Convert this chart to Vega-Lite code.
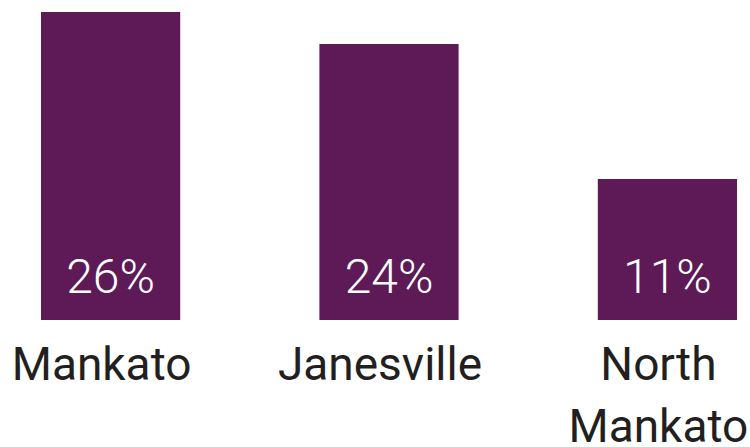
{
  "$schema": "https://vega.github.io/schema/vega-lite/v6.json",
  "width": 696,
  "height": 308,
  "padding": {"left": 41, "top": 12, "right": 13, "bottom": 127},
  "autosize": {"type": "none"},
  "background": "white",
  "config": {"view": {"stroke": null}},
  "data": {
    "values": [
      {"city": "Mankato", "value": 26, "label": "26%"},
      {"city": "Janesville", "value": 23.3, "label": "24%"},
      {"city": "North Mankato", "value": 11.9, "label": "11%"}
    ]
  },
  "encoding": {
    "x": {
      "field": "city",
      "type": "nominal",
      "sort": null,
      "scale": {"paddingInner": 0.5, "paddingOuter": 0},
      "axis": {
        "title": null,
        "domain": false,
        "ticks": false,
        "labelAngle": 0,
        "labelFont": "Roboto",
        "labelFontWeight": 400,
        "labelFontSize": 46,
        "labelColor": "#231f20",
        "labelBaseline": "alphabetic",
        "labelPadding": 59,
        "labelOffset": -9,
        "labelLineHeight": 62,
        "labelLimit": 0,
        "labelExpr": "datum.value == 'North Mankato' ? ['North', 'Mankato'] : datum.value"
      }
    }
  },
  "layer": [
    {
      "mark": {"type": "bar", "color": "#5d1a56"},
      "encoding": {
        "y": {
          "field": "value",
          "type": "quantitative",
          "scale": {"domain": [0, 26], "nice": false},
          "axis": null
        }
      }
    },
    {
      "mark": {
        "type": "text",
        "color": "white",
        "font": "Roboto",
        "fontWeight": 300,
        "fontSize": 48,
        "baseline": "alphabetic",
        "align": "center",
        "dy": -27
      },
      "encoding": {
        "y": {"datum": 0, "type": "quantitative"},
        "text": {"field": "label"}
      }
    }
  ]
}
